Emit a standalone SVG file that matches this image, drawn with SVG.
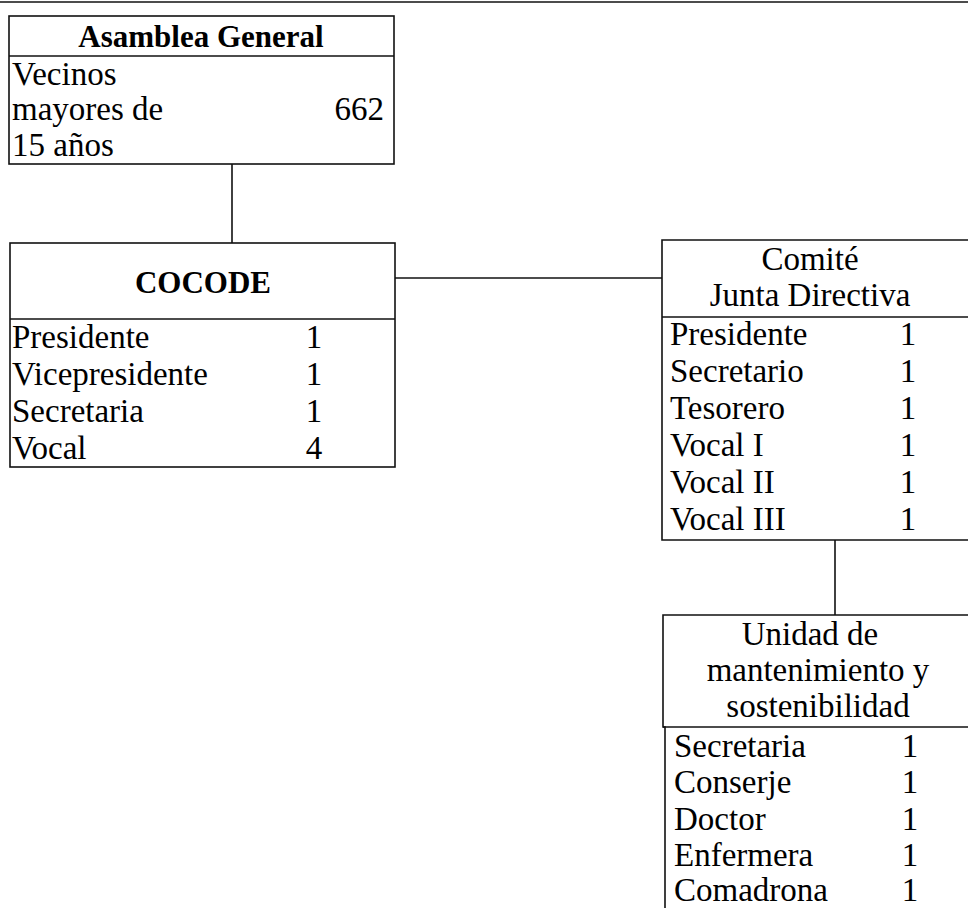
<svg xmlns="http://www.w3.org/2000/svg" width="968" height="908" viewBox="0 0 968 908">
<style>
.box{fill:none;stroke:#111;stroke-width:1.6}
.ln{fill:none;stroke:#111;stroke-width:1.6}
.t{font-size:33px;fill:#000}
.b{font-weight:bold;font-size:31px}
.c{text-anchor:middle}
.r{text-anchor:end}
</style>
<rect width="968" height="908" fill="#fff"/>
<line class="ln" x1="0" y1="2" x2="968" y2="2" stroke="#444"/>
<g id="connectors">
<line class="ln" x1="232" y1="164" x2="232" y2="243"/>
<line class="ln" x1="395" y1="278" x2="662" y2="278"/>
<line class="ln" x1="835" y1="540" x2="835" y2="615"/>
</g>
<g id="asamblea" class="t" font-family="Liberation Serif, DejaVu Serif, serif">
<rect class="box" x="9" y="16" width="385" height="148"/>
<line class="ln" x1="9" y1="56" x2="394" y2="56"/>
<text class="b c" x="201" y="47">Asamblea General</text>
<text x="12" y="85">Vecinos</text>
<text x="12" y="120">mayores de</text>
<text class="r" x="384" y="120">662</text>
<text x="12" y="156">15 años</text>
</g>
<g id="cocode" class="t" font-family="Liberation Serif, DejaVu Serif, serif">
<rect class="box" x="10" y="243" width="385" height="224"/>
<line class="ln" x1="10" y1="319" x2="395" y2="319"/>
<text class="b c" x="203" y="293">COCODE</text>
<text x="12" y="348">Presidente</text>
<text x="12" y="385">Vicepresidente</text>
<text x="12" y="422">Secretaria</text>
<text x="12" y="459">Vocal</text>
<text class="c" x="314" y="348">1</text>
<text class="c" x="314" y="385">1</text>
<text class="c" x="314" y="422">1</text>
<text class="c" x="314" y="459">4</text>
</g>
<g id="comite" class="t" font-family="Liberation Serif, DejaVu Serif, serif">
<polyline class="box" points="975,240 662,240 662,540 975,540"/>
<line class="ln" x1="662" y1="317" x2="968" y2="317"/>
<text class="c" x="810" y="270">Comité</text>
<text class="c" x="810" y="306">Junta Directiva</text>
<text x="670" y="345">Presidente</text>
<text x="670" y="382">Secretario</text>
<text x="670" y="419">Tesorero</text>
<text x="670" y="456">Vocal I</text>
<text x="670" y="493">Vocal II</text>
<text x="670" y="530">Vocal III</text>
<text class="c" x="908" y="345">1</text>
<text class="c" x="908" y="382">1</text>
<text class="c" x="908" y="419">1</text>
<text class="c" x="908" y="456">1</text>
<text class="c" x="908" y="493">1</text>
<text class="c" x="908" y="530">1</text>
</g>
<g id="unidad" class="t" font-family="Liberation Serif, DejaVu Serif, serif">
<polyline class="box" points="975,615 663,615 663,727 665,727 665,910"/>
<line class="ln" x1="663" y1="727" x2="968" y2="727"/>
<text class="c" x="810" y="645">Unidad de</text>
<text class="c" x="818" y="681">mantenimiento y</text>
<text class="c" x="818" y="717">sostenibilidad</text>
<text x="674" y="757">Secretaria</text>
<text x="674" y="793">Conserje</text>
<text x="674" y="830">Doctor</text>
<text x="674" y="866">Enfermera</text>
<text x="674" y="901">Comadrona</text>
<text class="c" x="910" y="757">1</text>
<text class="c" x="910" y="793">1</text>
<text class="c" x="910" y="830">1</text>
<text class="c" x="910" y="866">1</text>
<text class="c" x="910" y="901">1</text>
</g>
</svg>
